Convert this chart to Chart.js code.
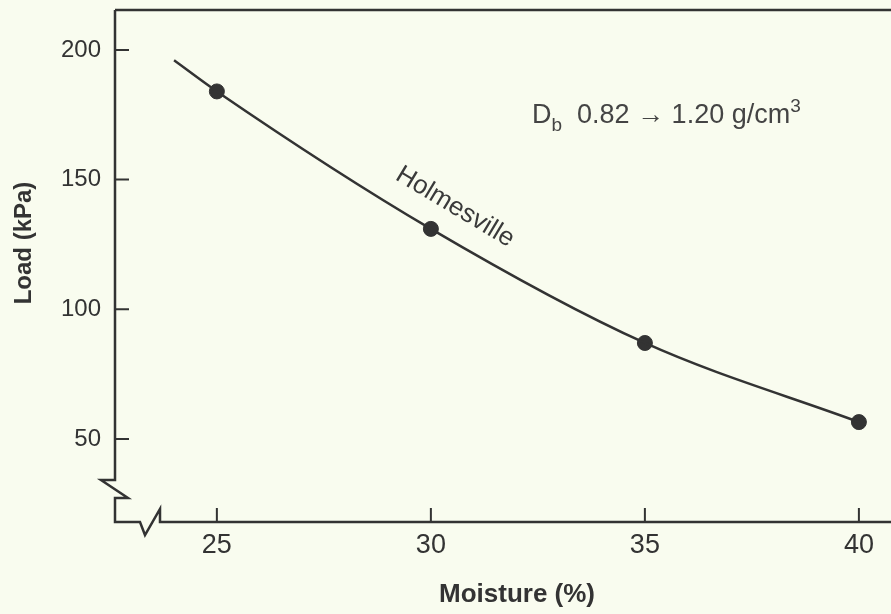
<!DOCTYPE html>
<html>
<head>
<meta charset="utf-8">
<script src="https://cdn.jsdelivr.net/npm/chart.js@4"></script>
<style>
  html, body { margin: 0; padding: 0; background: #f9fcef; }
  #wrap { width: 891px; height: 614px; }
</style>
</head>
<body>
<div id="wrap"><canvas id="loadChart" width="891" height="614"></canvas></div>
<script>
// ---- data ----
const moisture = [25, 30, 35, 40];          // measured points (%)
const load = [184, 131, 87, 56.5];          // kPa
// the drawn curve starts a little left of the first point
const curveMoisture = [24, 25, 30, 35, 40];
const curveLoad = [196, 184, 131, 87, 56.5];
const xTicks = [25, 30, 35, 40];
const yTicks = [50, 100, 150, 200];

const INK = '#333333';
const BG = '#f9fcef';
const FONT = '"Liberation Sans", Arial, Helvetica, sans-serif';

const zip = (xs, ys) => xs.map((x, i) => ({ x, y: ys[i] }));

// page background, frame with break marks, inward ticks, labels
const paper = {
  id: 'paper',
  beforeDraw(chart) {
    const { ctx, width, height } = chart;
    ctx.save();
    ctx.fillStyle = BG;
    ctx.fillRect(0, 0, width, height);
    ctx.restore();
  },
  afterDraw(chart) {
    const { ctx, chartArea: a, scales: { x, y } } = chart;
    ctx.save();
    ctx.strokeStyle = INK;
    ctx.lineWidth = 2.5;
    ctx.lineJoin = 'miter';

    // top edge
    ctx.beginPath();
    ctx.moveTo(a.left, a.top);
    ctx.lineTo(a.right, a.top);
    ctx.stroke();

    // left axis -> break -> bottom axis -> break
    ctx.beginPath();
    ctx.moveTo(a.left, a.top);
    ctx.lineTo(a.left, a.bottom - 42);
    ctx.lineTo(a.left - 14, a.bottom - 42);
    ctx.lineTo(a.left + 13, a.bottom - 24);
    ctx.lineTo(a.left, a.bottom - 24);
    ctx.lineTo(a.left, a.bottom);
    ctx.lineTo(a.left + 25, a.bottom);
    ctx.lineTo(a.left + 30, a.bottom + 13);
    ctx.lineTo(a.left + 45, a.bottom - 13);
    ctx.lineTo(a.left + 45, a.bottom);
    ctx.lineTo(a.right, a.bottom);
    ctx.stroke();

    // inward ticks
    ctx.lineWidth = 2;
    ctx.beginPath();
    yTicks.forEach((v) => {
      const py = y.getPixelForValue(v);
      ctx.moveTo(a.left, py);
      ctx.lineTo(a.left + 14, py);
    });
    xTicks.forEach((v) => {
      const px = x.getPixelForValue(v);
      ctx.moveTo(px, a.bottom);
      ctx.lineTo(px, a.bottom - 14);
    });
    ctx.stroke();

    // axis titles
    ctx.fillStyle = INK;
    ctx.textAlign = 'center';
    ctx.textBaseline = 'middle';
    ctx.font = `bold 26px ${FONT}`;
    ctx.fillText('Moisture (%)', 517, 595);
    ctx.save();
    ctx.translate(24, 243);
    ctx.rotate(-Math.PI / 2);
    ctx.font = `bold 24px ${FONT}`;
    ctx.fillText('Load (kPa)', 0, 0);
    ctx.restore();

    // curve label
    ctx.save();
    ctx.translate(455, 207);
    ctx.rotate(31 * Math.PI / 180);
    ctx.font = `26px ${FONT}`;
    ctx.fillStyle = '#3a3a3a';
    ctx.fillText('Holmesville', 0, 0);
    ctx.restore();

    // bulk density note: D_b 0.82 -> 1.20 g/cm^3
    ctx.fillStyle = '#444444';
    ctx.textAlign = 'left';
    ctx.textBaseline = 'alphabetic';
    let tx = 532;
    const base = 123;
    const put = (str, size, dy) => {
      ctx.font = `${size}px ${FONT}`;
      ctx.fillText(str, tx, base + dy);
      tx += ctx.measureText(str).width;
    };
    put('D', 27, 0);
    put('b', 19, 8);
    put('  0.82 \u2192 1.20 g/cm', 27, 0);
    put('3', 19, -11);

    ctx.restore();
  },
};

// scales should not ask for extra room for half-labels at the ends
const noEndPadding = (s) => {
  s.paddingTop = 0;
  s.paddingBottom = 0;
  s.paddingLeft = 0;
  s.paddingRight = 0;
};

new Chart(document.getElementById('loadChart'), {
  type: 'scatter',
  data: {
    datasets: [
      {
        label: 'Holmesville curve',
        data: zip(curveMoisture, curveLoad),
        showLine: true,
        borderColor: INK,
        borderWidth: 2.5,
        pointRadius: 0,
        cubicInterpolationMode: 'monotone',
        clip: false,
      },
      {
        label: 'Holmesville',
        data: zip(moisture, load),
        showLine: false,
        backgroundColor: INK,
        borderColor: INK,
        pointRadius: 7.5,
        pointHoverRadius: 7.5,
        clip: false,
      },
    ],
  },
  plugins: [paper],
  options: {
    responsive: false,
    animation: false,
    devicePixelRatio: 1,
    layout: { padding: { top: 10, right: 0, left: 0, bottom: 0 }, autoPadding: false },
    plugins: { legend: { display: false }, tooltip: { enabled: false } },
    scales: {
      x: {
        type: 'linear',
        min: 22.62,
        max: 40.75,
        afterFit: (s) => { s.height = 92; noEndPadding(s); },
        afterBuildTicks: (s) => { s.ticks = xTicks.map((value) => ({ value })); },
        grid: { display: false, drawTicks: false },
        border: { display: false },
        ticks: { color: INK, font: { family: FONT, size: 27 }, padding: 7 },
      },
      y: {
        type: 'linear',
        min: 17.97,
        max: 215.4,
        afterFit: (s) => { s.width = 115; noEndPadding(s); },
        afterBuildTicks: (s) => { s.ticks = yTicks.map((value) => ({ value })); },
        grid: { display: false, drawTicks: false },
        border: { display: false },
        ticks: { color: INK, font: { family: FONT, size: 24 }, padding: 14 },
      },
    },
  },
});
</script>
</body>
</html>
